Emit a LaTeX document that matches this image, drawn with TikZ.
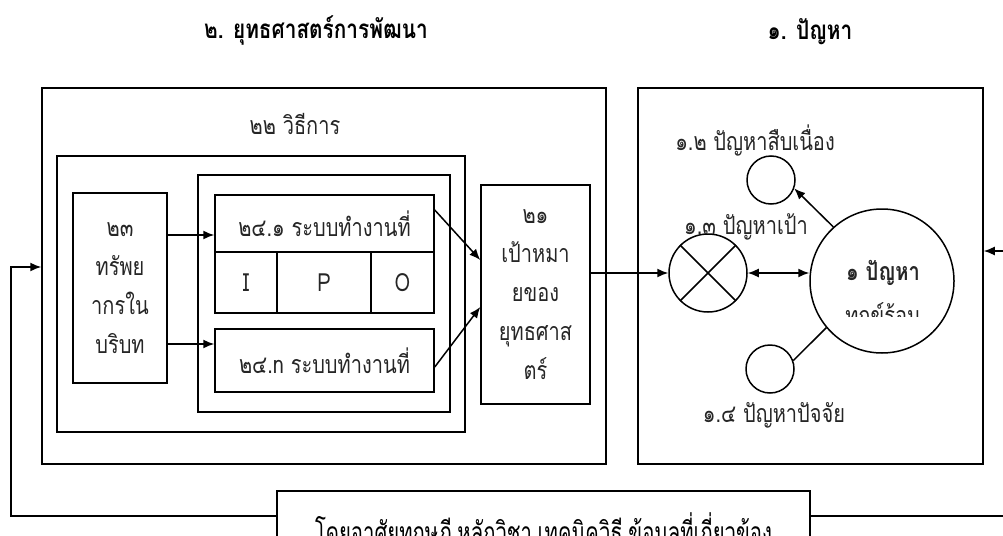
\documentclass[tikz,border=0pt]{standalone}
\usepackage{fontspec}
\setmainfont[Script=Thai, FakeStretch=0.8]{Loma}
\newfontfamily\condfont[Script=Thai]{Loma}
\usetikzlibrary{arrows.meta}
\tikzset{
  box/.style={draw, line width=1.5pt, inner sep=0pt, align=center},
  circ/.style={draw, circle, line width=1.5pt, inner sep=0pt},
  arr/.style={line width=1.5pt, -{Latex[length=11pt,width=9pt]}},
  darr/.style={line width=1.5pt, {Latex[length=11pt,width=9pt]}-{Latex[length=11pt,width=9pt]}},
  conn/.style={line width=1.5pt},
  txt/.style={font=\fontsize{25}{39}\selectfont, inner sep=0pt, text=black!85},
  ttl/.style={font=\fontsize{26}{28}\selectfont\bfseries, inner sep=0pt},
}
\begin{document}
\begin{tikzpicture}[x=1pt,y=-1pt]
\useasboundingbox (0,0) rectangle (1003,535);
\clip (0,0) rectangle (1003,535);
% titles
\node[ttl] (t2) at (316,30) {๒. ยุทธศาสตร์การพัฒนา};
\node[ttl] (t1) at (810,32) {๑. ปัญหา};
% left structure
\node[box, minimum width=564, minimum height=376] (L) at (324,276) {};
\node[txt] (m22) at (295,124) {๒๒ วิธีการ};
\node[box, minimum width=408, minimum height=276] (M) at (261,294) {};
\node[box, minimum width=252, minimum height=237] (S) at (324,293.5) {};
\node[box, txt, minimum width=94, minimum height=190] (R23) at (120,288) {๒๓\\ทรัพย\\ากรใน\\บริบท};
\node[box, txt, minimum width=219, minimum height=57] (P1) at (324.5,223.5) {๒๔.๑ ระบบทำงานที่};
\node[box, txt, minimum width=62, minimum height=61] (I) at (246,282.5) {I};
\node[box, txt, minimum width=94, minimum height=61] (P) at (324,282.5) {P};
\node[box, txt, minimum width=63, minimum height=61] (O) at (402.5,282.5) {O};
\node[box, txt, minimum width=219, minimum height=63] (PN) at (324.5,360.5) {๒๔.n ระบบทำงานที่};
\node[box, txt, minimum width=109, minimum height=219] (G) at (535.5,294.5) {๒๑\\เป้าหมา\\ยของ\\ยุทธศาส\\ตร์};
% right structure
\node[box, minimum width=345, minimum height=376] (Rt) at (810.5,276) {};
\node[circ, minimum size=78] (X) at (708,273) {};
\draw[conn] (X.north west) -- (X.south east);
\draw[conn] (X.north east) -- (X.south west);
\node[circ, minimum size=144] (B) at (882,281) {};
\node[txt, font=\fontsize{25}{28}\selectfont\bfseries] (Bt) at (883,273) {๑ ปัญหา};
\begin{scope}
  \clip (800,290) rectangle (960,316.5);
  \node[txt, anchor=base] (Bs) at (883,324) {ทุกข์ร้อน};
\end{scope}
\node[circ, minimum size=48] (c12) at (771,180) {};
\node[circ, minimum size=48] (c14) at (770,369) {};
\node[txt] (l12) at (755,140) {๑.๒ ปัญหาสืบเนื่อง};
\node[txt] (l13) at (746,227) {๑.๓ ปัญหาเป้า};
\node[txt] (l14) at (774,415) {๑.๔ ปัญหาปัจจัย};
% connectors
\draw[arr] (R23.east |- 0,235) -- (P1.west |- 0,235);
\draw[arr] (R23.east |- 0,344) -- (PN.west |- 0,344);
\draw[arr] (P1.east |- 0,210) -- (G.west |- 0,260);
\draw[arr] (PN.east |- 0,367) -- (G.west |- 0,307);
\draw[arr] (G.east |- X) -- (X.west);
\draw[darr] (X.east) -- (X.east -| B.west);
\draw[arr] (B.132) -- (c12.-20);
\draw[conn] (B.220) -- (c14.20);
% feedback
\node[box, minimum width=533, minimum height=80] (F) at (543.5,531) {};
\begin{scope}
  \clip (277,491) rectangle (810,535);
  \node[inner sep=0pt, anchor=base] (Ft) at (543.5,543) {\resizebox{457pt}{\height}{\fontsize{30}{32}\condfont โดยอาศัยทฤษฎี,หลักวิชา,เทคนิควิธี,ข้อมูลที่เกี่ยวข้อง}};
\end{scope}
\coordinate (fbL) at (11,267);
\coordinate (fbR) at (1020,251);
\draw[arr] (F.west |- 0,516) -| (fbL) -- (L.west |- fbL);
\draw[arr] (F.east |- 0,516) -| (fbR) -- (Rt.east |- fbR);
\end{tikzpicture}
\end{document}
